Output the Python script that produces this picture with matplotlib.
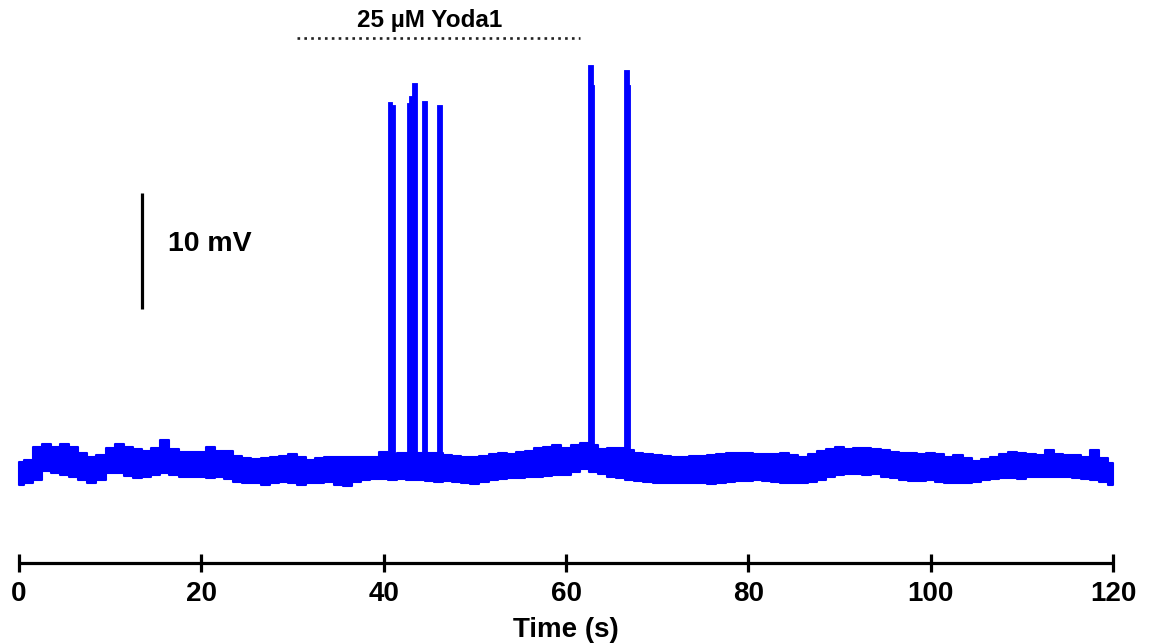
import matplotlib
matplotlib.use("Agg")
import matplotlib.pyplot as plt
import numpy as np

# ---- data -------------------------------------------------------------
# time in seconds, membrane potential in mV (baseline arbitrarily ~ -60 mV)
time_s = list(range(0, 121))

trace_upper = [
    -59.71, -59.57, -58.42, -58.19, -58.42, -58.19, -58.42, -58.94, -59.28, -59.14,
    -58.57, -58.19, -58.48, -58.65, -58.77, -58.57, -57.85, -58.65, -58.85, -58.85,
    -58.85, -58.42, -58.77, -58.77, -59.23, -59.43, -59.51, -59.43, -59.28, -59.23,
    -59.05, -59.34, -59.57, -59.43, -59.34, -59.28, -59.34, -59.34, -59.34, -59.28,
    -58.85, -59.05, -59.00, -59.00, -59.00, -58.94, -58.94, -59.14, -59.23, -59.28,
    -59.34, -59.23, -59.08, -59.00, -59.05, -58.88, -58.77, -58.57, -58.42, -58.28,
    -58.51, -58.28, -58.08, -58.28, -58.65, -58.57, -58.57, -58.71, -58.94, -59.05,
    -59.14, -59.23, -59.28, -59.34, -59.23, -59.23, -59.14, -59.05, -59.00, -59.00,
    -59.00, -59.05, -59.05, -59.05, -59.00, -59.14, -59.28, -59.05, -58.77, -58.65,
    -58.42, -58.65, -58.57, -58.57, -58.65, -58.71, -58.85, -58.94, -59.00, -59.05,
    -59.00, -59.05, -59.28, -59.14, -59.43, -59.63, -59.51, -59.28, -59.05, -58.85,
    -59.00, -59.05, -59.14, -58.71, -59.05, -59.14, -59.14, -59.28, -58.71, -59.43,
    -59.86,
]

trace_lower = [
    -61.72, -61.58, -61.29, -60.49, -60.72, -60.86, -61.00, -61.29, -61.58, -61.29,
    -60.66, -60.72, -60.95, -61.15, -61.06, -60.86, -60.72, -60.86, -61.00, -61.00,
    -61.00, -61.15, -61.06, -61.23, -61.43, -61.58, -61.58, -61.72, -61.58, -61.43,
    -61.58, -61.72, -61.58, -61.52, -61.43, -61.72, -61.81, -61.43, -61.29, -61.23,
    -61.23, -61.29, -61.17, -61.29, -61.29, -61.35, -61.43, -61.38, -61.46, -61.58,
    -61.63, -61.43, -61.29, -61.23, -61.15, -61.15, -61.06, -61.00, -60.92, -60.86,
    -60.86, -60.57, -60.37, -60.57, -60.77, -61.00, -61.15, -61.29, -61.35, -61.46,
    -61.52, -61.55, -61.58, -61.58, -61.52, -61.58, -61.63, -61.58, -61.43, -61.35,
    -61.35, -61.29, -61.35, -61.43, -61.52, -61.58, -61.58, -61.43, -61.29, -61.00,
    -60.89, -60.80, -60.80, -60.86, -60.80, -61.00, -61.15, -61.29, -61.35, -61.35,
    -61.29, -61.43, -61.58, -61.58, -61.52, -61.43, -61.29, -61.20, -61.15, -61.09,
    -61.23, -61.06, -61.00, -61.00, -61.00, -61.03, -61.09, -61.17, -61.29, -61.43,
    -61.72,
]

# action potentials: start / end time (s) and peak (mV)
spike_start = [40.44, 40.88, 42.52, 42.81, 43.14, 44.24, 45.88, 62.45, 62.93, 66.39, 66.87]
spike_end   = [40.88, 41.24, 42.81, 43.14, 43.62, 44.72, 46.36, 62.93, 63.07, 66.87, 67.05]
spike_peak  = [-28.76, -29.05, -28.90, -28.27, -27.18, -28.68, -29.05, -25.61, -27.33, -26.04, -27.33]
spike_base  = -60.5

x_ticks = [0, 20, 40, 60, 80, 100, 120]
drug_label = "25 µM Yoda1"
drug_on, drug_off = 30.5, 61.5
scalebar_mv = 10
scalebar_label = "10 mV"
xlabel = "Time (s)"

# ---- figure -----------------------------------------------------------
plt.rcParams['font.family'] = ['Liberation Sans', 'DejaVu Sans']
W, H, DPI = 1155, 644, 100
fig = plt.figure(figsize=(W / DPI, H / DPI), dpi=DPI)

ax_left_px, ax_right_px = 5.3, 1126.7
ax_bottom_px = 562.7
ax = fig.add_axes([ax_left_px / W, (H - ax_bottom_px) / H,
                   (ax_right_px - ax_left_px) / W, ax_bottom_px / H])
ax.set_xlim(-1.5, 121.5)
ax.set_ylim(-68.40, -20.02)

blue = '#0000ff'
ax.fill_between(time_s, trace_lower, trace_upper, step='mid', color=blue,
                linewidth=1.5, edgecolor=blue)
for s, e, p in zip(spike_start, spike_end, spike_peak):
    ax.fill_between([s, e], [spike_base, spike_base], [p, p], color=blue,
                    linewidth=0.6, edgecolor=blue)

# drug application bar
ax.plot([drug_on, drug_off], [-23.28, -23.28], color='#222222',
        linestyle=(0, (1, 1.6)), linewidth=1.9, clip_on=False)
ax.text((drug_on + drug_off) / 2 - 1.0, -22.34, drug_label, ha='center', va='baseline',
        fontsize=17.5, fontweight='bold', clip_on=False)

# scale bar
sb_t, sb_bottom = 13.46, -46.59
ax.plot([sb_t, sb_t], [sb_bottom, sb_bottom + scalebar_mv], color='black',
        linewidth=2.3, solid_capstyle='butt')
ax.text(16.34, sb_bottom + scalebar_mv / 2 + 0.6, scalebar_label, ha='left', va='center',
        fontsize=20.5, fontweight='bold')

# axes styling
for side in ['left', 'top', 'right']:
    ax.spines[side].set_visible(False)
ax.spines['bottom'].set_bounds(0, 120)
ax.spines['bottom'].set_linewidth(2.3)
ax.spines['bottom'].set_capstyle('butt')
ax.set_yticks([])
ax.set_xticks(x_ticks)
ax.set_xticklabels([str(t) for t in x_ticks], fontsize=20, fontweight='bold')
ax.tick_params(axis='x', direction='inout', length=13, width=2.3, pad=7, color='black')
ax.set_xlabel(xlabel, fontsize=20, fontweight='bold', labelpad=7)

fig.savefig('out.png', dpi=DPI)
